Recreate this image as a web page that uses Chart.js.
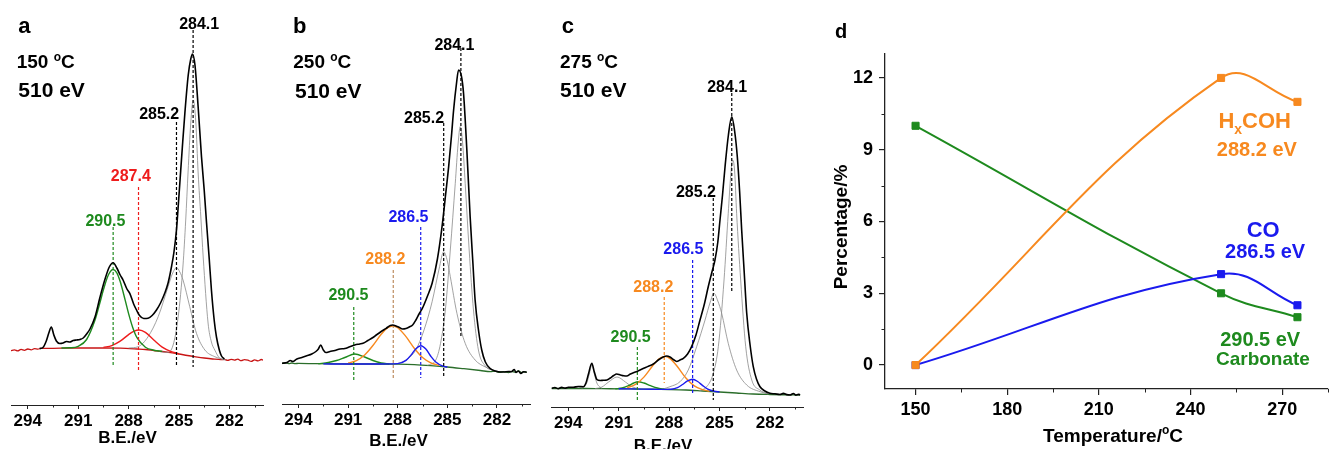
<!DOCTYPE html>
<html>
<head>
<meta charset="utf-8">
<script src="https://cdn.jsdelivr.net/npm/chart.js@4.4.1/dist/chart.umd.min.js"></script>
<style>
  html, body { margin: 0; padding: 0; background: #fff; overflow: hidden; width: 1338px; height: 449px; }
  canvas { position: absolute; top: 0; }
</style>
</head>
<body>
<canvas id="pa" width="270" height="455" style="left:0px"></canvas>
<canvas id="pb" width="270" height="455" style="left:270px"></canvas>
<canvas id="pc" width="270" height="455" style="left:540px"></canvas>
<canvas id="pd" width="518" height="449" style="left:820px"></canvas>
<script>
// ---- binding energy axis (panels a-c) ----
const beTicks = [294, 291, 288, 285, 282];
const beMinor = [292.5, 289.5, 286.5, 283.5, 280.5];

// ---- panel a : 150 oC ----  [B.E. eV, intensity a.u.]
const aRaw = [[293.3,56.5],[293.1,57.5],[292.9,64],[292.75,72],[292.6,78],[292.45,70],[292.3,64],[292.1,61.5],[291.9,62],[291.7,63.5],[291.5,63],[291.3,64.5],[291.1,65],[290.9,65.5],[290.7,67],[290.5,71],[290.3,76],[290.0,88],[289.7,108],[289.42,125],[289.15,138],[288.92,142.3],[288.7,137],[288.5,130],[288.33,125],[288.1,116],[287.93,111.7],[287.7,101],[287.53,95],[287.35,89.5],[287.1,86.5],[286.84,86.7],[286.6,89.5],[286.34,95],[286.1,102],[285.85,111.7],[285.65,122],[285.45,138],[285.3,153],[285.15,175],[285.05,198],[284.95,222],[284.8,258],[284.65,292],[284.45,330],[284.3,346],[284.2,351],[284.05,340],[283.86,298],[283.66,248],[283.5,215],[283.36,182],[283.2,146],[283.07,115],[282.9,84],[282.77,68],[282.6,55],[282.47,49],[282.3,46]];
const aBg = [[295.0,54.3],[294.8,55.2],[294.6,54.1],[294.4,55.6],[294.2,54.7],[294.0,56.0],[293.8,55.1],[293.6,56.3],[293.4,55.9],[293.2,56.6],[292.5,56.7],[291.5,57],[290.5,57],[289.5,57],[288.5,56.8],[287.5,56],[287.0,55.5],[286.5,54.5],[286.0,53.5],[285.5,52.3],[285.0,51],[284.5,49.5],[284.0,48.2],[283.5,47],[283.0,46],[282.5,45.3],[282.3,45.6],[282.1,44.6],[281.9,45.7],[281.7,44.9],[281.5,45.8],[281.3,44.3],[281.1,45.4],[280.9,44.8],[280.7,43.6],[280.5,45.2],[280.3,44.1],[280.1,45.5],[280.0,44.9]];
const aCarbonate = [[292,57],[291.5,57.2],[291,58.7],[290.5,65.5],[290,84.9],[289.7,102.7],[289.5,115.2],[289.2,130.2],[288.92,135.5],[288.7,132.2],[288.5,123.5],[288.2,104.6],[288,91.4],[287.75,77.3],[287.5,67.3],[287,57.8],[286.5,54.8],[286,53.6]];
const aC287 = [[289.5,57.6],[289,59.4],[288.5,63.8],[288,70.4],[287.7,73.6],[287.37,75],[287,72.6],[286.5,65],[286,57.9],[285.5,53.7],[285,51.2]];
const aC285 = [[288,57],[287.43,58.3],[286.84,68.3],[286.24,88.3],[285.65,118.3],[285.4,131],[285.15,137.3],[284.95,133],[284.76,125],[284.36,98.3],[283.96,71.7],[283.46,55],[282.87,48.3],[282.3,45.5]];
const aC284 = [[286.2,53.6],[285.7,52.5],[285.35,60],[285.05,88],[284.76,140],[284.6,185],[284.46,233],[284.3,282],[284.15,305],[284,283],[283.86,232],[283.7,188],[283.56,148],[283.27,82],[283.07,63],[282.87,55],[282.57,46.7],[282.2,45]];
const aPeakText = ['284.1', '285.2', '287.4', '290.5'];
const aPeakPos = [284.16, 285.15, 287.41, 288.92];
const aPeakTop = [375, 283, 218, 178];
const aPeakBottom = [38, 38, 33, 40];
const aPeakLabelAt = [[283.8, 382], [286.18, 291.7], [287.87, 230], [289.38, 185]];

// ---- panel b : 250 oC ----
const bRaw = [[295.0,40.7],[294.7,41.5],[294.5,43.5],[294.35,42.5],[294.1,45],[293.8,46.5],[293.5,48.2],[293.2,50],[292.95,52.5],[292.8,55],[292.66,59],[292.5,54],[292.35,51.5],[292.1,52.5],[291.8,53.5],[291.5,55],[291.2,55.5],[290.9,57.3],[290.6,59],[290.3,60],[290.1,60.7],[289.8,63.5],[289.5,66.5],[289.3,69],[289.0,72.5],[288.7,75.7],[288.45,78.5],[288.3,79],[288.1,78],[287.9,76.5],[287.71,75],[287.5,75.5],[287.3,77],[287.1,79],[286.9,84],[286.71,90],[286.5,96],[286.2,108],[285.92,120.7],[285.6,145],[285.32,177.3],[285.1,210],[284.92,237.3],[284.75,268],[284.62,294],[284.45,320],[284.32,334],[284.15,328],[284.02,310.7],[283.82,254],[283.62,187.3],[283.45,140],[283.32,104],[283.1,72],[282.92,54],[282.7,42],[282.42,35.7],[282.1,33],[281.92,32.3],[281.6,32],[281.3,32.5],[281.13,32.3],[280.95,34.5],[280.85,31.5],[280.7,33],[280.55,30.5],[280.4,32.2],[280.2,31.8]];
const bBg = [[295,40.5],[294.8,41.2],[294.6,40.3],[294.4,41],[294.2,40.4],[294.0,40.6],[293,40.3],[292,40.1],[291,40],[290,40],[289,40],[288,39.8],[287,39.3],[286,38.3],[285,37],[284,35.3],[283,33.5],[282.4,32.3],[282.1,32.8],[281.9,31.6],[281.6,32.4],[281.3,31.5],[281.1,32.6],[280.9,31.8],[280.7,33],[280.5,31.4],[280.3,32.2],[280.2,31.7]];
const bCarbonate = [[292.8,40.2],[292.2,41.5],[291.7,43.5],[291.2,46.5],[290.6,50],[290,47],[289.5,43.5],[289,41],[288.5,40]];
const bHxCOH = [[291,41],[290.5,43.4],[290,49],[289.5,58.5],[289,69.7],[288.6,76.3],[288.3,78],[288,76.3],[287.5,67.4],[287,55.8],[286.5,46.5],[286,41.2],[285.5,38.6]];
const bCO = [[292.5,40.1],[291,40],[289.5,40],[288,40.4],[287.5,43.6],[287.2,48.9],[286.9,55.3],[286.6,58.2],[286.3,54.9],[286,47.8],[285.7,42],[285.3,38.1],[285,37]];
const bC285 = [[288,40.5],[287.5,44],[286.91,54],[286.41,74],[285.92,102.3],[285.5,135],[285.22,152.3],[285.0,143],[284.82,127.3],[284.42,90.7],[283.92,60.7],[283.32,44],[282.7,37],[282.2,33.5]];
const bC284 = [[286.2,38.5],[285.7,44],[285.41,60.7],[285.12,94],[284.82,154],[284.52,220.7],[284.35,260],[284.22,277.3],[284.08,262],[283.92,220.7],[283.68,154],[283.42,94],[283.12,54],[282.7,38],[282.2,33.5]];
const bPeakText = ['284.1', '285.2', '286.5', '288.2', '290.5'];
const bPeakPos = [284.18, 285.22, 286.61, 288.27, 290.66];
const bPeakTop = [356, 281, 177, 134, 97];
const bPeakBottom = [67, 26, 26, 24, 24];
const bPeakLabelAt = [[284.57, 360], [286.41, 287], [287.35, 188], [288.75, 146], [290.98, 110]];

// ---- panel c : 275 oC ----
const cRaw = [[295,18.7],[294.8,19.5],[294.6,18.3],[294.4,19.6],[294.2,18.9],[294.0,19.8],[293.7,19.7],[293.4,20.5],[293.1,20.3],[292.95,24],[292.8,33],[292.6,43.7],[292.45,35],[292.3,27.5],[292.1,26.5],[291.9,26.8],[291.7,27],[291.5,29],[291.3,31.5],[291.12,33],[290.9,32],[290.7,31.2],[290.52,31],[290.3,33],[290.0,35],[289.73,37],[289.4,39.5],[289.2,41],[288.94,43],[288.6,47.5],[288.35,50],[288.14,51],[287.95,50],[287.75,47.5],[287.55,45.5],[287.35,47],[287.15,48.7],[286.9,53],[286.66,60.3],[286.4,72],[286.16,87],[285.9,103],[285.67,120.3],[285.45,135],[285.27,147],[285.1,165],[284.97,187],[284.82,212],[284.67,240.3],[284.47,272],[284.27,290.3],[284.1,276],[283.94,250.3],[283.8,215],[283.68,177],[283.53,135],[283.38,93.7],[283.18,62],[282.99,40.3],[282.8,28],[282.59,20.3],[282.3,16],[282.0,13.7],[281.7,13.2],[281.4,12.5],[281.2,13.6],[281.0,12.4],[280.8,12],[280.6,13.5],[280.45,11.8],[280.3,12.6],[280.2,12.2]];
const cBg = [[295,18.5],[294,18.5],[293,18.5],[292,18.3],[291,18.2],[290,18],[289,17.8],[288,17.5],[287,17],[286,16],[285,15],[284,14],[283,13],[282,12.5],[281,12.2],[280.2,12]];
const cCarbonate = [[291.2,18.2],[290.8,19],[290.4,21.5],[290.1,24],[289.85,25.3],[289.5,24],[289.1,21.3],[288.7,19],[288.3,17.8]];
const cHxCOH = [[290.5,19.3],[290,22.6],[289.5,29.9],[289,40.8],[288.6,48.2],[288.25,50.6],[287.9,47.9],[287.5,40.2],[287,29],[286.5,21.1],[286,17.3],[285.6,15.6]];
const cCO = [[291,18.2],[289.5,17.9],[288.3,17.6],[287.9,17.8],[287.5,19.4],[287.2,22.5],[286.9,26.1],[286.6,27.7],[286.3,25.5],[286,21.4],[285.7,17.9],[285.3,15.7],[285,15]];
const cC292 = [[293.2,18.5],[292.9,24],[292.75,33],[292.6,42],[292.45,33],[292.3,24],[292.0,18.5]];
const cC291 = [[292.4,18.4],[292.0,20],[291.6,25],[291.1,30],[290.6,25],[290.2,20.2],[289.8,18.2]];
const cC285 = [[288.4,17.8],[287.95,20.3],[287.35,25.3],[286.86,37],[286.36,60.3],[285.86,87],[285.55,105],[285.33,113.7],[285.1,106],[284.87,93.7],[284.48,63.7],[283.98,37],[283.38,22],[282.59,15.3],[282.1,13]];
const cC284 = [[286.2,16.2],[285.76,20.3],[285.37,33.7],[285.07,60.3],[284.73,127],[284.48,193.7],[284.33,232],[284.22,247],[284.1,236],[283.98,193.7],[283.74,127],[283.44,60.3],[283.08,27],[282.6,17],[282.2,13.5]];
const cPeakText = ['284.1', '285.2', '286.5', '288.2', '290.5'];
const cPeakPos = [284.27, 285.37, 286.6, 288.29, 289.89];
const cPeakTop = [314, 209, 147, 110, 60];
const cPeakBottom = [114, 7, 14, 24, 5];
const cPeakLabelAt = [[284.54, 321], [286.4, 215.3], [287.15, 158.7], [288.94, 121], [290.29, 71]];

// ---- panel d : percentage vs temperature ----
const dTemps = [150, 250, 275];
const dHxCOH = [0, 12, 11];
const dCO = [0, 3.8, 2.5];
const dCarbonate = [10, 3, 2];
const dXTicks = [150, 180, 210, 240, 270];
const dXMinor = [165, 195, 225, 255, 285];
const dYTicks = [0, 3, 6, 9, 12];
const dYMinor = [1.5, 4.5, 7.5, 10.5];

// ---- styling ----
const FONT = '"Liberation Sans", Arial, Helvetica, sans-serif';
const GREY = '#8a8a8a';
const RED = '#ee1c1c';
const GREEN = '#1e8a1e';
const BGGREEN = '#2b6e2b';
const BLUE = '#1a1aee';
const ORANGE = '#f7891f';
const TAN = '#bd8d60';
const AXIS = '#222';

function pts(arr) { return arr.map(p => ({ x: p[0], y: p[1] })); }

function curve(arr, color, width) {
  return { data: pts(arr), borderColor: color, borderWidth: width, pointRadius: 0, fill: false,
           cubicInterpolationMode: 'monotone' };
}
function mark(pos, top, bottom, color) {
  return { data: [{ x: pos, y: top }, { x: pos, y: bottom }], borderColor: color, borderWidth: 1.2,
           borderDash: [3, 2], pointRadius: 0, fill: false, tension: 0 };
}

// text with mixed sizes (superscript / subscript parts): [text, size, rise]
function rich(ctx, parts, x, y, it) {
  ctx.save();
  ctx.fillStyle = it.color || '#000';
  ctx.textBaseline = 'alphabetic';
  ctx.textAlign = 'left';
  let w = 0;
  parts.forEach(p => { ctx.font = 'bold ' + p[1] + 'px ' + FONT; w += ctx.measureText(p[0]).width; });
  if (it.mid) y += parts[0][1] * 0.36;
  ctx.translate(x, y);
  if (it.rot) ctx.rotate(it.rot);
  let cx = it.align === 'left' ? 0 : -w / 2;
  parts.forEach(p => {
    ctx.font = 'bold ' + p[1] + 'px ' + FONT;
    ctx.fillText(p[0], cx, -(p[2] || 0));
    cx += ctx.measureText(p[0]).width;
  });
  ctx.restore();
}

function annot(items, minor) {
  return {
    id: 'annot',
    afterDatasetsDraw(chart) {
      const ctx = chart.ctx, sx = chart.scales.x, sy = chart.scales.y;
      ctx.save();
      ctx.strokeStyle = AXIS;
      ctx.lineWidth = 1;
      (minor.x || []).forEach(v => {
        const p = Math.round(sx.getPixelForValue(v)) + 0.5;
        ctx.beginPath(); ctx.moveTo(p, sx.top); ctx.lineTo(p, sx.top + minor.len); ctx.stroke();
      });
      (minor.y || []).forEach(v => {
        const p = Math.round(sy.getPixelForValue(v)) + 0.5;
        ctx.beginPath(); ctx.moveTo(sy.right, p); ctx.lineTo(sy.right - minor.len, p); ctx.stroke();
      });
      ctx.restore();
      items.forEach(it => {
        let x = it.at[0], y = it.at[1];
        if (it.data) { x = sx.getPixelForValue(x); y = sy.getPixelForValue(y); }
        rich(ctx, it.parts, x, y, it);
      });
    }
  };
}

function peakNotes(texts, at, colors) {
  return texts.map((t, i) => ({ parts: [[t, 16]], at: at[i], data: true, mid: true, color: colors[i] }));
}

function spectrum(id, pad, yMax, axisH, datasets, notes) {
  new Chart(document.getElementById(id), {
    type: 'line',
    data: { datasets: datasets },
    options: {
      responsive: false, animation: false, events: [],
      layout: { padding: pad },
      plugins: { legend: { display: false }, tooltip: { enabled: false } },
      scales: {
        x: {
          type: 'linear', reverse: true, min: 280, max: 295,
          afterBuildTicks: s => { s.ticks = beTicks.map(v => ({ value: v })); },
          afterFit: s => { s.height = axisH; },
          grid: { drawOnChartArea: false, drawTicks: true, tickLength: 4, color: AXIS, lineWidth: 1 },
          border: { display: true, color: AXIS, width: 1 },
          ticks: { autoSkip: false, maxRotation: 0, padding: 2, color: '#000',
                   font: { family: FONT, size: 17, weight: 'bold' } }
        },
        y: { display: false, min: 0, max: yMax }
      }
    },
    plugins: [annot(notes, { x: beMinor, len: 2.5 })]
  });
}

function sets(raw, marks, comps, bg) {
  return [raw].concat(marks, comps, [bg]);
}

// panel a
spectrum('pa', { left: 11, right: 7, top: 10, bottom: 0 }, 395, 50,
  sets(curve(aRaw, '#000', 1.6),
    aPeakPos.map((p, i) => mark(p, aPeakTop[i], aPeakBottom[i], ['#000', '#000', RED, GREEN][i])),
    [curve(aCarbonate, GREEN, 1.4), curve(aC287, RED, 1.4), curve(aC285, GREY, 0.8), curve(aC284, GREY, 0.8)],
    curve(aBg, '#c81414', 1.3)),
  [{ parts: [['a', 22]], at: [18.3, 33.3], align: 'left' },
   { parts: [['150 ', 19], ['o', 12, 7], ['C', 19]], at: [16.7, 68.3], align: 'left' },
   { parts: [['510 eV', 21]], at: [18.3, 97.3], align: 'left' },
   { parts: [['B.E./eV', 17]], at: [127.5, 442.5] }]
   .concat(peakNotes(aPeakText, aPeakLabelAt, ['#000', '#000', RED, GREEN])));

// panel b
spectrum('pb', { left: 12, right: 10, top: 10, bottom: 0 }, 394, 51,
  sets(curve(bRaw, '#000', 1.6),
    bPeakPos.map((p, i) => mark(p, bPeakTop[i], bPeakBottom[i], ['#000', '#000', BLUE, TAN, GREEN][i])),
    [curve(bCO, BLUE, 1.4), curve(bHxCOH, ORANGE, 1.4), curve(bCarbonate, GREEN, 1.4),
     curve(bC285, GREY, 0.8), curve(bC284, GREY, 0.8)],
    curve(bBg, BGGREEN, 1.3)),
  [{ parts: [['b', 22]], at: [23, 33.3], align: 'left' },
   { parts: [['250 ', 19], ['o', 12, 7], ['C', 19]], at: [23.3, 68.3], align: 'left' },
   { parts: [['510 eV', 21]], at: [25, 97.5], align: 'left' },
   { parts: [['B.E./eV', 17]], at: [128.5, 446] }]
   .concat(peakNotes(bPeakText, bPeakLabelAt, ['#000', '#000', BLUE, ORANGE, GREEN])));

// panel c
spectrum('pc', { left: 11.5, right: 6.5, top: 10, bottom: 0 }, 397, 48,
  sets(curve(cRaw, '#000', 1.6),
    cPeakPos.map((p, i) => mark(p, cPeakTop[i], cPeakBottom[i], ['#000', '#000', BLUE, ORANGE, GREEN][i])),
    [curve(cCO, BLUE, 1.4), curve(cHxCOH, ORANGE, 1.4), curve(cCarbonate, GREEN, 1.4),
     curve(cC292, GREY, 0.8), curve(cC291, GREY, 0.8), curve(cC285, GREY, 0.8), curve(cC284, GREY, 0.8)],
    curve(cBg, BGGREEN, 1.3)),
  [{ parts: [['c', 22]], at: [21.7, 33.3], align: 'left' },
   { parts: [['275 ', 19], ['o', 12, 7], ['C', 19]], at: [20, 68.3], align: 'left' },
   { parts: [['510 eV', 21]], at: [20, 96.7], align: 'left' },
   { parts: [['B.E./eV', 17]], at: [123, 451] }]
   .concat(peakNotes(cPeakText, cPeakLabelAt, ['#000', '#000', BLUE, ORANGE, GREEN])));

// panel d
function trend(vals, color) {
  return { data: dTemps.map((t, i) => ({ x: t, y: vals[i] })), borderColor: color, backgroundColor: color,
           borderWidth: 2, tension: 0.4, pointStyle: 'rect', pointRadius: 5, pointBorderWidth: 1, fill: false };
}
const tickFont = { family: FONT, size: 18, weight: 'bold' };
new Chart(document.getElementById('pd'), {
  type: 'line',
  data: { datasets: [trend(dHxCOH, ORANGE), trend(dCO, BLUE), trend(dCarbonate, GREEN)] },
  options: {
    responsive: false, animation: false, events: [],
    layout: { padding: { left: 0, right: 10, top: 54, bottom: 0 } },
    plugins: { legend: { display: false }, tooltip: { enabled: false } },
    scales: {
      x: {
        type: 'linear', min: 140, max: 285,
        afterBuildTicks: s => { s.ticks = dXTicks.map(v => ({ value: v })); },
        afterFit: s => { s.height = 60; },
        grid: { drawOnChartArea: false, drawTicks: true, tickLength: 6, color: AXIS, lineWidth: 1.2 },
        border: { display: true, color: AXIS, width: 1.3 },
        ticks: { autoSkip: false, maxRotation: 0, padding: 4, color: '#000', font: tickFont }
      },
      y: {
        min: -1, max: 13,
        afterBuildTicks: s => { s.ticks = dYTicks.map(v => ({ value: v })); },
        afterFit: s => { s.width = 65; },
        grid: { drawOnChartArea: false, drawTicks: true, tickLength: 6, color: AXIS, lineWidth: 1.2 },
        border: { display: true, color: AXIS, width: 1.3 },
        ticks: { autoSkip: false, padding: 6, color: '#000', font: tickFont }
      }
    }
  },
  plugins: [annot([
    { parts: [['d', 20]], at: [15, 38.3], align: 'left' },
    { parts: [['Temperature/', 19], ['o', 12, 8], ['C', 19]], at: [293, 441.7] },
    { parts: [['Percentage/%', 19]], at: [27, 227], rot: -Math.PI / 2 },
    { parts: [['H', 22], ['x', 14, -6], ['COH', 22]], at: [261.0, 9.9], data: true, color: ORANGE },
    { parts: [['288.2 eV', 20]], at: [261.7, 8.75], data: true, color: ORANGE },
    { parts: [['CO', 22]], at: [263.8, 5.35], data: true, color: BLUE },
    { parts: [['286.5 eV', 20]], at: [264.4, 4.49], data: true, color: BLUE },
    { parts: [['290.5 eV', 20]], at: [262.8, 0.8], data: true, color: GREEN },
    { parts: [['Carbonate', 19]], at: [263.7, 0.0], data: true, color: GREEN }
  ], { x: dXMinor, y: dYMinor, len: 3.5 })]
});
</script>
</body>
</html>
